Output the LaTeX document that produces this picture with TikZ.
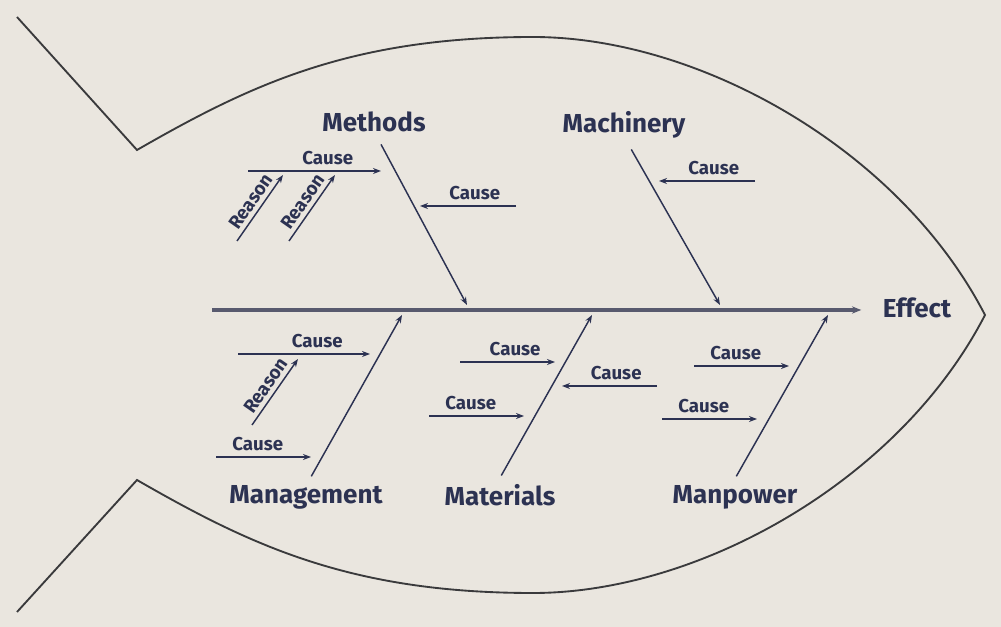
\documentclass[tikz,border=0pt]{standalone}
\usepackage{fontspec}
\setmainfont{Fira Sans}
\usetikzlibrary{arrows.meta}
\definecolor{fbbg}{RGB}{234,230,223}
\definecolor{fbnavy}{RGB}{44,50,82}
\definecolor{fbline}{RGB}{58,58,60}
\definecolor{fbspine}{RGB}{88,90,110}

\begin{document}
\begin{tikzpicture}[x=0.75pt,y=-0.75pt,
  fish/.style={fbline, line width=1.4pt, line join=miter},
  spine/.style={fbspine, line width=2.6pt, -{Stealth[length=7pt,width=5.5pt]}},
  bone/.style={fbnavy, line width=1.1pt, -{Stealth[length=6pt,width=4.5pt]}},
  cause/.style={fbnavy, line width=1.1pt, -{Stealth[length=6pt,width=4.5pt]}},
  cat/.style={fbnavy, font=\bfseries\fontsize{19.5}{22}\selectfont, inner sep=2pt},
  lbl/.style={fbnavy, font=\bfseries\fontsize{14}{16}\selectfont, inner sep=0pt, above=4pt},
  rsn/.style={fbnavy, font=\bfseries\fontsize{14}{16}\selectfont, inner sep=0pt, sloped, above=3pt}]
  % background and frame size
  \fill[fbbg] (0,0) rectangle (1001,627);
  \useasboundingbox (0,0) rectangle (1001,627);
  % Fish outline
  \draw[fish] (17,17) -- (137,150)
    .. controls (250,85) and (350,37) .. (533,37)
    .. controls (700,37) and (900,150) .. (985,315)
    .. controls (900,480) and (700,593) .. (533,593)
    .. controls (350,593) and (250,545) .. (137,480) -- (17,612);
  % Spine and effect
  \node[cat] (eff) at (917,308) {Effect};
  \coordinate (tail) at (212,310);
  \draw[spine] (tail) -- ([xshift=-14pt]eff.west |- tail);
  % Categories
  \node[cat] (meth) at (374,122) {Methods};
  \node[cat] (mach) at (624,125) {Machinery};
  \node[cat] (mgmt) at (306,497) {Management};
  \node[cat] (matl) at (500,495) {Materials};
  \node[cat] (manp) at (735,497) {Manpower};
  \coordinate (methE) at (467,305);
  \coordinate (machE) at (720,305);
  \coordinate (mgmtE) at (402,315);
  \coordinate (matlE) at (592,315);
  \coordinate (manpE) at (828,315);
  \draw[bone, shorten <=8pt] ([xshift=1.5pt]meth.south) -- (methE);
  \draw[bone, shorten <=7pt] ([xshift=2pt]mach.south) -- (machE);
  \draw[bone, shorten <=5pt] ([xshift=1.5pt]mgmt.north) -- (mgmtE);
  \draw[bone, shorten <=5pt] ([xshift=-1.5pt]matl.north) -- (matlE);
  \draw[bone, shorten <=5pt] ([xshift=-1.5pt]manp.north) -- (manpE);
  % Causes
  \foreach \n/\xa/\xb/\y/\p in {mc1/248/381/171/0.6, mc2/516/420/206/0.43,
      hc1/755/659/181/0.43, gc1/238/370/354/0.6, gc2/216/311/457/0.44,
      tc1/460/555/362/0.58, tc2/429/524/416/0.44, tc3/657/562/386/0.43,
      pc1/694/789/366/0.44, pc2/662/757/419/0.44} {
    \coordinate (\n s) at (\xa,\y);
    \coordinate (\n e) at (\xb,\y);
    \draw[cause] (\n s) -- node[lbl, pos=\p] (\n) {Cause} (\n e);
  }
  % Reasons
  \foreach \n/\xa/\ya/\xb/\yb in {mr1/237/241/283/175, mr2/289/241/335/175,
      gr1/252/425/298/359} {
    \coordinate (\n s) at (\xa,\ya);
    \coordinate (\n e) at (\xb,\yb);
    \draw[cause] (\n s) -- node[rsn, midway] (\n) {Reason} (\n e);
  }
\end{tikzpicture}
\end{document}
